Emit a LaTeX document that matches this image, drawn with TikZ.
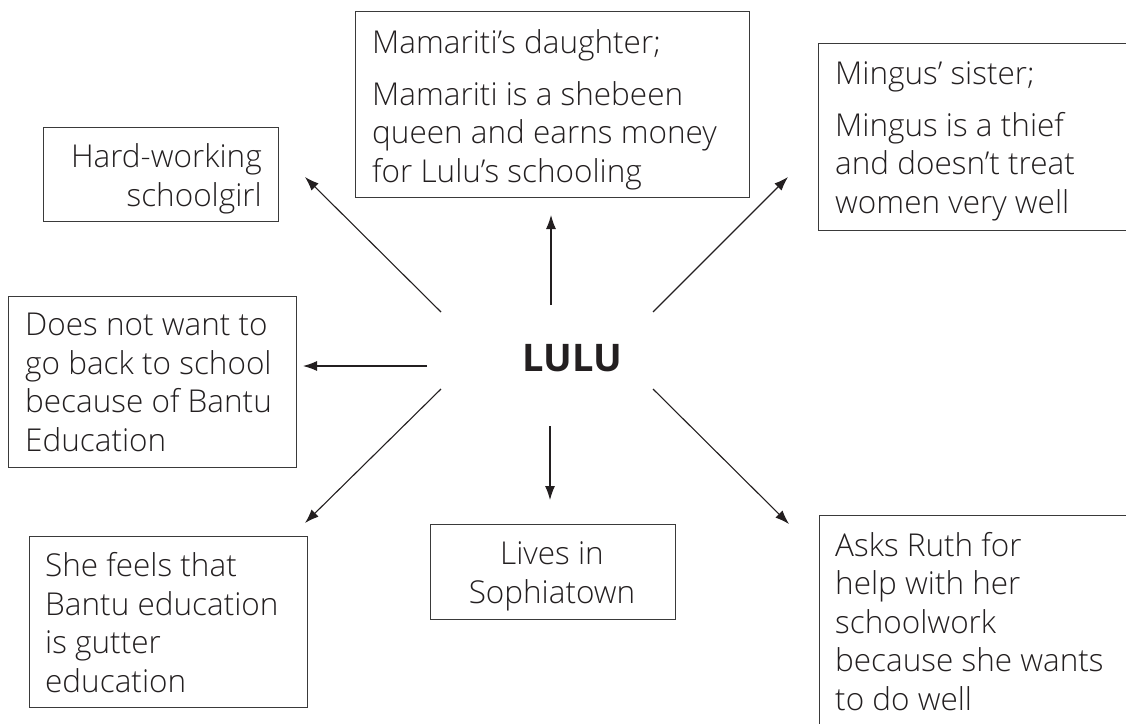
\documentclass[tikz,border=0pt]{standalone}
\usepackage{fontspec}
\IfFontExistsTF{Open Sans Light}{\setmainfont{Open Sans Light}}{%
 \IfFontExistsTF{OpenSans-Light.ttf}{\setmainfont{OpenSans-Light.ttf}}{%
  \IfFontExistsTF{Open Sans:style=Light}{\setmainfont{Open Sans:style=Light}}{\setmainfont{Open Sans}}}}
\newfontfamily\lulufont{Open Sans}
\usetikzlibrary{arrows.meta}
\definecolor{ink}{HTML}{231F20}
\definecolor{boxc}{HTML}{3A3A3A}
\begin{document}
\begin{tikzpicture}[x=1pt,y=-1pt,
  box/.style={draw=boxc, line width=1.3pt, inner sep=0pt, anchor=north west},
  txt/.style={inner sep=0pt, align=left, anchor=base west, font=\fontsize{31.5}{38.5}\selectfont, text=ink},
  arr/.style={-{Latex[length=14pt,width=10pt]}, line width=1.1pt, draw=ink}]
\useasboundingbox (0,0) rectangle (1126,723);
\clip (0,0) rectangle (1126,723);
% boxes
\node[box, minimum width=235, minimum height=94] (bhard) at (43,127) {};
\node[box, minimum width=288, minimum height=171] (bdoes) at (8,296) {};
\node[box, minimum width=394, minimum height=186] (bmama) at (355,11) {};
\node[box, minimum width=330, minimum height=187] (bming) at (818,43) {};
\node[box, minimum width=278, minimum height=171] (bfeel) at (29,536) {};
\node[box, minimum width=245, minimum height=95] (blive) at (430,524) {};
\node[box, minimum width=330, minimum height=230] (bruth) at (819,515) {};
% texts (anchor = baseline of last line)
\node[txt, align=right, anchor=base east] (thard) at (262,206) {Hard-working\\schoolgirl};
\node[txt] (tdoes) at (25,451) {Does not want to\\go back to school\\because of Bantu\\Education};
\node[txt] (tmama) at (372,182) {Mamariti’s daughter;\\[13pt]Mamariti is a shebeen\\queen and earns money\\for Lulu’s schooling};
\node[txt] (tming) at (835,213) {Mingus’ sister;\\[13pt]Mingus is a thief\\and doesn’t treat\\women very well};
\node[txt] (tfeel) at (45,692) {She feels that\\Bantu education\\is gutter\\education};
\node[txt, align=center, anchor=base] (tlive) at (552,603) {Lives in\\Sophiatown};
\node[txt] (truth) at (835,710) {Asks Ruth for\\help with her\\schoolwork\\because she wants\\to do well};
% centre
\node[inner sep=0pt, text=ink, font=\lulufont\bfseries\fontsize{38}{40}\selectfont] (lulu) at (572,358) {LULU};
% arrow ends
\coordinate (sN) at (551,305);  \coordinate (eN) at (551,215);
\coordinate (sW) at (427,366);  \coordinate (eW) at (303,366);
\coordinate (sNW) at (441,312); \coordinate (eNW) at (305,177);
\coordinate (sNE) at (653,312); \coordinate (eNE) at (788,177);
\coordinate (sSW) at (441,389); \coordinate (eSW) at (305,523);
\coordinate (sSE) at (653,389); \coordinate (eSE) at (789,524);
\coordinate (sS) at (550,426);  \coordinate (eS) at (550,500);
\foreach \d in {N,W,NW,NE,SW,SE,S}{\draw[arr] (s\d) -- (e\d);}
\end{tikzpicture}
\end{document}
